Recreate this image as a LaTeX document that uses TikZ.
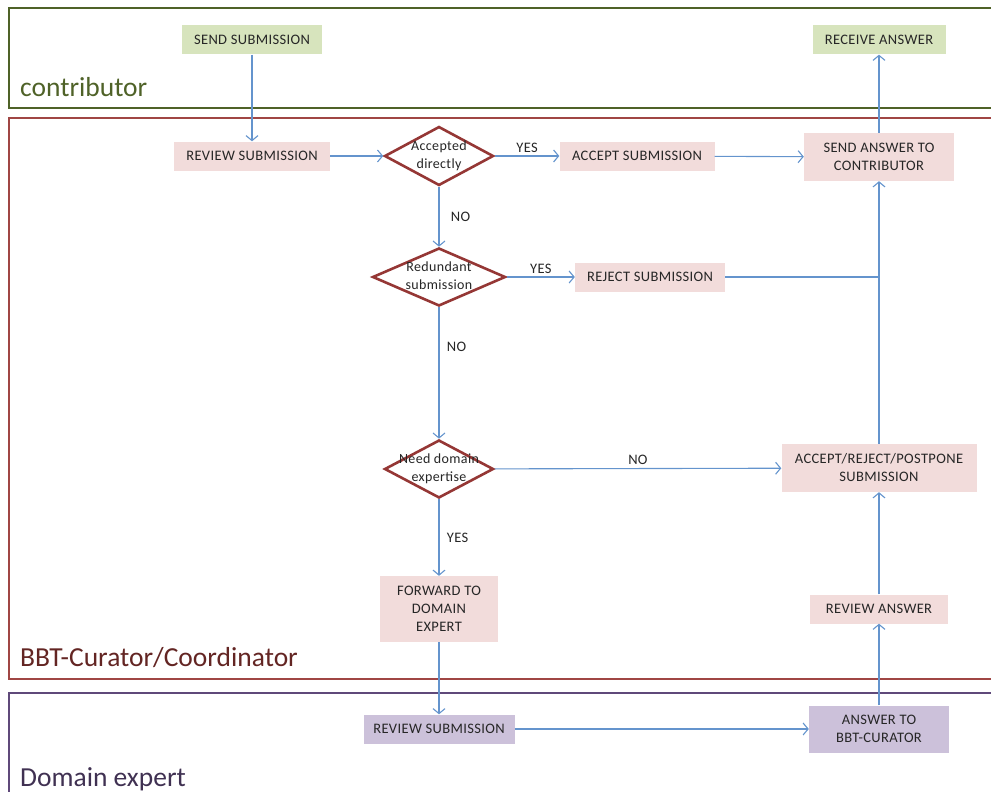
\documentclass[tikz,border=0pt]{standalone}
\usepackage{fontspec}
\setmainfont{Carlito}[LetterSpace=2.5]
\newfontfamily\lanefont{Carlito}
\usetikzlibrary{shapes.geometric, arrows.meta, positioning}
\definecolor{flowblue}{RGB}{100,148,205}
\definecolor{greenfill}{RGB}{215,228,189}
\definecolor{pinkfill}{RGB}{242,220,219}
\definecolor{purplefill}{RGB}{204,193,218}
\definecolor{diamondred}{RGB}{149,55,53}
\definecolor{lanegreen}{RGB}{79,98,40}
\definecolor{lanered}{RGB}{160,70,68}
\definecolor{redtext}{RGB}{99,37,35}
\definecolor{lanepurple}{RGB}{95,73,122}
\definecolor{purpletext}{RGB}{64,49,82}
\tikzset{
x=1pt, y=-1pt, % one unit is one pixel of the page, y runs down
flow/.style={draw=flowblue, line width=1.1pt, -{Straight Barb[length=5pt,width=12pt]}}, % the blue connectors
link/.style={draw=flowblue, line width=1.1pt}, % a connector without a head
task/.style={fill=pinkfill, inner sep=0pt, minimum height=29, align=center, text=black!85, font=\fontsize{14.5}{18}\selectfont}, % every box
outside/.style={task, fill=greenfill}, % boxes of the contributor
expert/.style={task, fill=purplefill}, % boxes of the domain expert
decision/.style={diamond, draw=diamondred, line width=2.6pt, fill=white, inner sep=0pt, text=black!85, font=\fontsize{14}{18}\selectfont}, % the questions
answer/.style={text=black!85, font=\fontsize{14.5}{18}\selectfont}, % YES and NO
lanetitle/.style={anchor=base west, inner sep=0pt, font=\lanefont\fontsize{27.5}{30}\selectfont}, % names of the lanes
}
\newcommand{\qtext}[2]{\makebox[0pt]{\begin{tabular}{@{}c@{}}#1\\#2\end{tabular}}}

\begin{document}
\begin{tikzpicture}
            \useasboundingbox (0,0) rectangle (991,792);

            % lanes
            \draw[lanegreen, line width=1.3pt] (9,8) rectangle (1000,108);
            \draw[lanered, line width=1.3pt] (9,118) rectangle (1000,679);
            \draw[lanepurple, line width=1.3pt] (9,693) rectangle (1000,810);
            \node[lanetitle, text=lanegreen] (contrib) at (20,96) {contributor};
            \node[lanetitle, text=redtext] (curator) at (20,666) {BBT-Curator/Coordinator};
            \node[lanetitle, text=purpletext] (expertlane) at (20,786) {Domain expert};

            % contributor
            \node[outside, minimum width=140] (send) at (252,40) {SEND SUBMISSION};
            \node[outside, minimum width=133] (recv) at (879,40) {RECEIVE ANSWER};

            % curator
            \node[task, minimum width=156] (rev) at (252,156) {REVIEW SUBMISSION};
            \node[decision, minimum width=109, minimum height=59] (acc) at (439,156) {\qtext{Accepted}{directly}};
            \node[task, minimum width=155] (accept) at (637,156) {ACCEPT SUBMISSION};
            \node[task, minimum width=150, minimum height=48] (sendans) at (879,157) {SEND ANSWER TO\\CONTRIBUTOR};
            \node[decision, minimum width=133, minimum height=58] (red) at (439,277) {\qtext{Redundant}{submission}};
            \node[task, minimum width=150] (reject) at (650,277) {REJECT SUBMISSION};
            \node[decision, minimum width=109, minimum height=58] (need) at (439,469) {\qtext{Need domain}{expertise}};
            \node[task, minimum width=195, minimum height=48] (arp) at (879,468) {ACCEPT/REJECT/POSTPONE\\SUBMISSION};
            \node[task, minimum width=118, minimum height=66] (fwd) at (439,609) {FORWARD TO\\DOMAIN\\EXPERT};
            \node[task, minimum width=138] (rans) at (879,609) {REVIEW ANSWER};

            % domain expert
            \node[expert, minimum width=151] (rsub) at (439,729) {REVIEW SUBMISSION};
            \node[expert, minimum width=140, minimum height=47] (ans) at (879,729) {ANSWER TO\\BBT-CURATOR};

            \draw[flow] (send) -- (rev);
            \draw[flow] (rev) -- (acc);
            \draw[flow] (acc) -- node[answer, above]{YES} (accept);
            \draw[flow] (accept) -- (sendans);
            \draw[flow] (acc) -- node[answer, right, xshift=8]{NO} (red);
            \draw[flow] (red) -- node[answer, above]{YES} (reject);
            \draw[link] (reject) -- (reject -| sendans);
            \draw[flow] (red) -- node[answer, right, pos=0.3, xshift=4]{NO} (need);
            \draw[flow] (need) -- node[answer, above]{NO} (arp);
            \draw[flow] (need) -- node[answer, right, xshift=4]{YES} (fwd);
            \draw[flow] (fwd) -- (rsub);
            \draw[flow] (rsub) -- (ans);
            \draw[flow] (ans) -- (rans);
            \draw[flow] (rans) -- (arp);
            \draw[flow] (arp) -- (sendans);
            \draw[flow] (sendans) -- (recv);
\end{tikzpicture}
\end{document}
